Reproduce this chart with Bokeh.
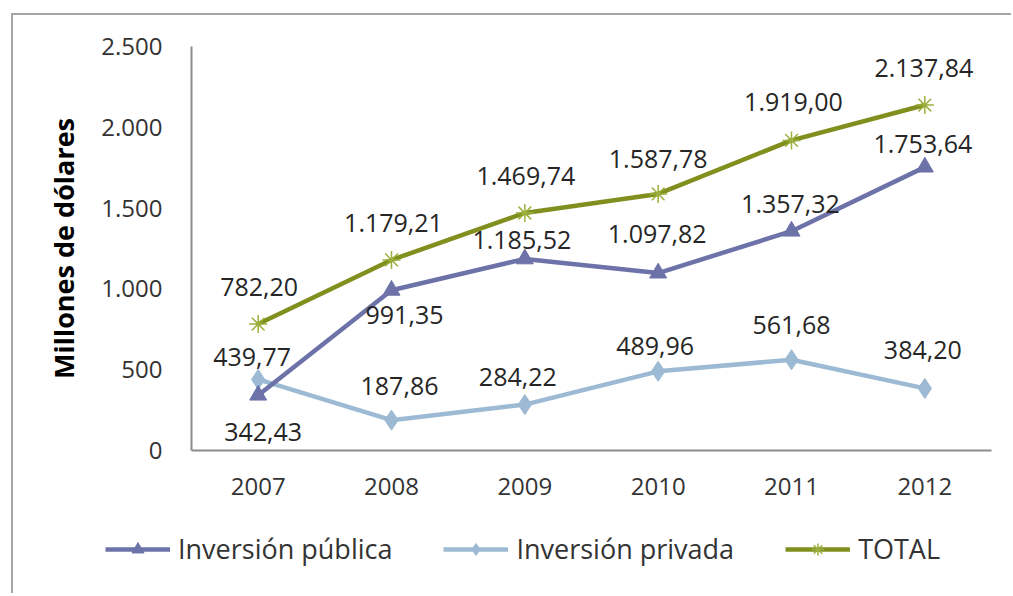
from bokeh.plotting import figure
from bokeh.models import ColumnDataSource, FixedTicker, Legend, LegendItem, Range1d, FactorRange
from bokeh.core.properties import value
from bokeh.embed import file_html
from bokeh.resources import INLINE

years = ["2007", "2008", "2009", "2010", "2011", "2012"]
publica = [342.43, 991.35, 1185.52, 1097.82, 1357.32, 1753.64]
privada = [439.77, 187.86, 284.22, 489.96, 561.68, 384.20]
total = [782.20, 1179.21, 1469.74, 1587.78, 1919.00, 2137.84]
y_ticks = [0, 500, 1000, 1500, 2000, 2500]
y_tick_labels = ["0", "500", "1.000", "1.500", "2.000", "2.500"]
series_names = ["Inversión pública", "Inversión privada", "TOTAL"]

# label offsets in screen pixels (style)
pub_dx = [5, 13, -3, -1, -1, -2]
pub_dy = [37, 25, -19, -39, -27, -23]
pri_dx = [-6, 8, -7, -3, 0, -2]
pri_dy = [-22, -34, -28, -25, -35, -38]
tot_dx = [1, 2, 1, 0, 2, -1]
tot_dy = [-37, -37, -37, -35, -38, -37]


def fmt(v):
    s = f"{v:,.2f}"
    return s.replace(",", "X").replace(".", ",").replace("X", ".")


C_PUB = "#6D73A8"
C_PRI = "#9CBAD3"
C_TOT = "#808F1E"
C_TOT_M = "#9BB03C"
FONT = "Open Sans"

p = figure(width=1000, height=505, output_backend="svg", toolbar_location=None,
           x_range=FactorRange(*years), y_range=Range1d(0, 2500),
           min_border_left=178, min_border_top=31, min_border_right=22, min_border_bottom=70)
p.styles = {"position": "relative", "left": "11px", "top": "13px",
            "border-left": "2px solid #a6a6a6", "border-top": "2px solid #a6a6a6"}
p.outline_line_color = None
p.grid.visible = False

for ax in (p.xaxis[0], p.yaxis[0]):
    ax.axis_line_color = "#8c8c8c"
    ax.axis_line_width = 2
    ax.major_tick_line_color = None
    ax.minor_tick_line_color = None
    ax.major_tick_out = 0
    ax.major_label_text_font = FONT
    ax.major_label_text_font_size = "24px"
    ax.major_label_text_color = "#333333"

p.yaxis[0].ticker = FixedTicker(ticks=y_ticks)
p.yaxis[0].major_label_overrides = {t: l for t, l in zip(y_ticks, y_tick_labels)}
p.yaxis[0].major_label_standoff = 29
p.yaxis[0].axis_label = "Millones de dólares"
p.yaxis[0].axis_label_text_font = FONT
p.yaxis[0].axis_label_text_font_style = "bold"
p.yaxis[0].axis_label_text_font_size = "27px"
p.yaxis[0].axis_label_text_color = "#000000"
p.yaxis[0].axis_label_standoff = 16
p.xaxis[0].major_label_standoff = 27

src = ColumnDataSource(dict(
    x=years, pub=publica, pri=privada, tot=total,
    pub_t=[fmt(v) for v in publica], pri_t=[fmt(v) for v in privada], tot_t=[fmt(v) for v in total],
    pub_dx=pub_dx, pub_dy=pub_dy, pri_dx=pri_dx, pri_dy=pri_dy, tot_dx=tot_dx, tot_dy=tot_dy,
))

l_pri = p.line("x", "pri", source=src, line_color=C_PRI, line_width=4.5)
m_pri = p.scatter("x", "pri", source=src, marker="diamond", size=20, fill_color=C_PRI, line_color=C_PRI)
l_pub = p.line("x", "pub", source=src, line_color=C_PUB, line_width=4.5)
m_pub = p.scatter("x", "pub", source=src, marker="triangle", size=17, fill_color=C_PUB, line_color=C_PUB)
l_tot = p.line("x", "tot", source=src, line_color=C_TOT, line_width=4.5)
m_tot = p.scatter("x", "tot", source=src, marker="asterisk", size=18, line_color=C_TOT_M, line_width=1.5)

for col, dx, dy in (("pub", "pub_dx", "pub_dy"), ("pri", "pri_dx", "pri_dy"), ("tot", "tot_dx", "tot_dy")):
    p.text("x", col, text=col + "_t", source=src, x_offset=dx, y_offset=dy,
           text_align="center", text_baseline="middle", text_font=value(FONT),
           text_font_size="25px", text_color="#262626")

# legend strip below the chart: same series, drawn out of its visible range, only the legend shows
lf = figure(width=1000, height=75, output_backend="svg", toolbar_location=None,
            x_range=FactorRange(*years), y_range=Range1d(-2, -1), min_border=0)
lf.styles = {"position": "relative", "left": "11px", "top": "13px",
             "border-left": "2px solid #a6a6a6"}
lf.axis.visible = False
lf.grid.visible = False
lf.outline_line_color = None
g_pub = [lf.line("x", "pub", source=src, line_color=C_PUB, line_width=4.5),
         lf.scatter("x", "pub", source=src, marker="triangle", size=14, fill_color=C_PUB, line_color=C_PUB)]
g_pri = [lf.line("x", "pri", source=src, line_color=C_PRI, line_width=4.5),
         lf.scatter("x", "pri", source=src, marker="diamond", size=16, fill_color=C_PRI, line_color=C_PRI)]
g_tot = [lf.line("x", "tot", source=src, line_color=C_TOT, line_width=4.5),
         lf.scatter("x", "tot", source=src, marker="asterisk", size=15, line_color=C_TOT_M, line_width=1.5)]

legend = Legend(items=[LegendItem(label=n, renderers=r) for n, r in zip(series_names, [g_pub, g_pri, g_tot])],
                orientation="horizontal", location=(92, 26))
legend.label_text_font = FONT
legend.label_text_font_size = "27px"
legend.label_text_color = "#333333"
legend.glyph_width = 65
legend.glyph_height = 30
legend.label_standoff = 8
legend.spacing = 51
legend.padding = 0
legend.margin = 0
legend.border_line_color = None
legend.background_fill_color = None
lf.add_layout(legend, "center")

open("out.html", "w").write(file_html([p, lf], INLINE))
